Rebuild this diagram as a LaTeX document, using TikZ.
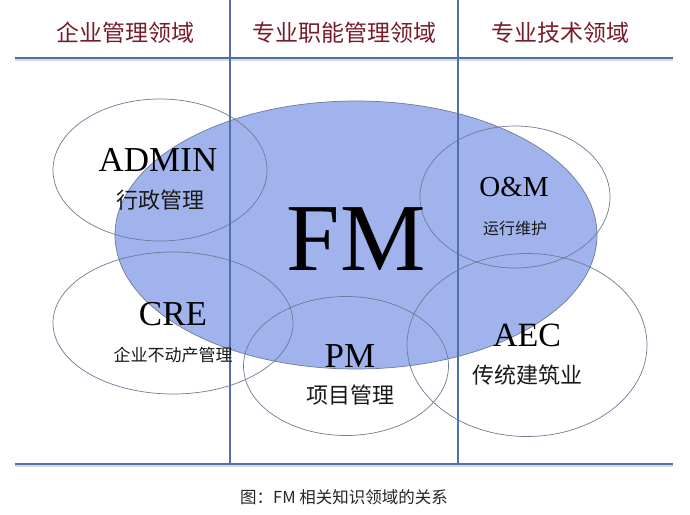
\documentclass[tikz,border=0pt]{standalone}
\usepackage{fontspec}
\setmainfont{Liberation Serif}
\newfontfamily\cjk{Noto Sans CJK SC}
\usetikzlibrary{shapes.geometric}
\definecolor{fmfill}{RGB}{161,179,236}
\definecolor{rulec}{RGB}{80,112,168}
\definecolor{ringc}{RGB}{112,122,148}
\definecolor{headc}{RGB}{120,28,42}

\begin{document}
\begin{tikzpicture}[
    x=1pt, y=-1pt,
    area/.style = {ellipse, draw=ringc, line width=0.7pt, inner sep=0pt},
    rule/.style = {rulec, line width=2.4pt},
    shade/.style = {black!15, line width=2pt},
    head/.style = {font=\cjk\fontsize{23}{23}\selectfont, text=headc},
    term/.style = {font=\fontsize{35}{35}\selectfont, text=black, anchor=base},
    zh/.style = {font=\cjk\fontsize{22}{22}\selectfont, text=black!90}
  ]
    \useasboundingbox[fill=white] (0,0) rectangle (690,514);
    % areas
    \node[area, fill=fmfill, minimum width=482, minimum height=268] (fm) at (356,235) {};
    \node[area, minimum width=214, minimum height=142] (admin) at (160,170) {};
    \node[area, minimum width=240, minimum height=142] (cre) at (173,323) {};
    \node[area, minimum width=205, minimum height=139] (pm) at (346,366) {};
    \node[area, minimum width=190, minimum height=142] (om) at (515,197) {};
    \node[area, minimum width=240, minimum height=183] (aec) at (527,345) {};
    % frame
    \coordinate (tl) at (15,58);
    \coordinate (tr) at (673,58);
    \coordinate (bl) at (15,464);
    \coordinate (br) at (673,464);
    \coordinate (a1) at (230,0);
    \coordinate (a2) at (230,464);
    \coordinate (b1) at (458,0);
    \coordinate (b2) at (458,464);
    \draw[shade] ([yshift=-2pt]tl) -- ([yshift=-2pt]tr);
    \draw[shade] ([yshift=-2pt]bl) -- ([yshift=-2pt]br);
    \draw[rule] (tl) -- (tr);
    \draw[rule] (bl) -- (br);
    \draw[rule] (a1) -- (a2);
    \draw[rule] (b1) -- (b2);
    % headings
    \node[head] (h1) at (125,33) {企业管理领域};
    \node[head] (h2) at (344,33) {专业职能管理领域};
    \node[head] (h3) at (560,33) {专业技术领域};
    % labels
    \node[term, font=\fontsize{96}{96}\selectfont] (fmt) at (356,270) {FM};
    \node[term] (admint) at (158,171) {ADMIN};
    \node[zh] (adminz) at (160,200) {行政管理};
    \node[term] (cret) at (173,325) {CRE};
    \node[zh, font=\cjk\fontsize{17}{17}\selectfont] (crez) at (173,355) {企业不动产管理};
    \node[term] (pmt) at (350,367) {PM};
    \node[zh] (pmz) at (350,395) {项目管理};
    \node[term, font=\fontsize{29}{29}\selectfont] (omt) at (514,196) {O\&M};
    \node[zh, font=\cjk\fontsize{16}{16}\selectfont] (omz) at (515,228) {运行维护};
    \node[term, font=\fontsize{34}{34}\selectfont] (aect) at (527,346) {AEC};
    \node[zh] (aecz) at (527,375) {传统建筑业};
    % caption
    \node[font=\cjk\fontsize{16.5}{16.5}\selectfont, text=black!85] (cap) at (344,497) {图：FM 相关知识领域的关系};
\end{tikzpicture}
\end{document}
